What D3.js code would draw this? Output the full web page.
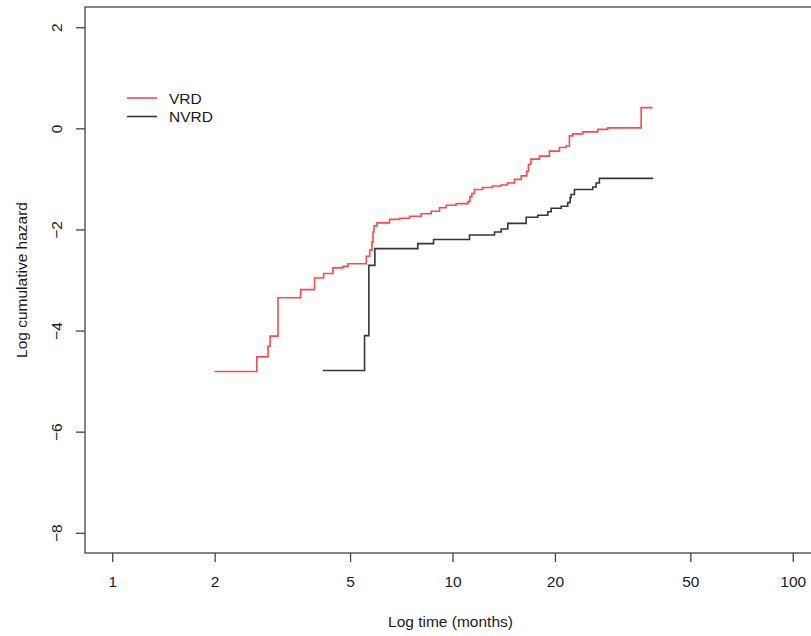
<!DOCTYPE html>
<html>
<head>
<meta charset="utf-8">
<script src="https://cdn.jsdelivr.net/npm/d3@7"></script>
<style>
  html, body { margin: 0; padding: 0; background: #fff; }
  svg { display: block; font-family: "Liberation Sans", Arial, sans-serif; }
</style>
</head>
<body>
<svg id="chart" width="811" height="636"></svg>
<script>
// ---- data ----
const seriesNames = ["VRD", "NVRD"];
const seriesColors = ["#ff4848", "#363636"];

const vrdTime = [2.00, 2.66, 2.87, 2.91, 3.07, 3.58, 3.93, 4.18, 4.45, 4.76, 4.93, 5.58, 5.71, 5.80, 5.84, 5.88, 6.00, 6.53, 7.00, 7.48, 8.09, 8.66, 9.16, 9.58, 10.25, 11.10, 11.25, 11.40, 11.60, 12.25, 13.10, 13.90, 14.51, 15.21, 15.92, 16.53, 16.72, 17.00, 18.01, 19.27, 20.62, 21.57, 22.06, 22.56, 24.14, 26.71, 28.58, 35.84, 38.7];
const vrdHazard = [-4.81, -4.52, -4.31, -4.11, -3.35, -3.19, -2.96, -2.87, -2.76, -2.73, -2.68, -2.53, -2.41, -2.25, -2.05, -1.93, -1.87, -1.80, -1.78, -1.74, -1.69, -1.64, -1.57, -1.52, -1.49, -1.45, -1.35, -1.29, -1.21, -1.17, -1.14, -1.12, -1.08, -1.01, -0.94, -0.85, -0.71, -0.61, -0.55, -0.45, -0.38, -0.35, -0.15, -0.11, -0.07, -0.02, 0.01, 0.41, 0.41];

const nvrdTime = [4.16, 5.515, 5.678, 5.914, 7.908, 8.796, 11.22, 13.29, 13.90, 14.54, 16.46, 17.81, 19.05, 19.50, 20.86, 21.81, 22.17, 22.30, 22.82, 25.83, 26.43, 27.02, 38.9];
const nvrdHazard = [-4.79, -4.10, -2.71, -2.38, -2.28, -2.20, -2.11, -2.05, -1.99, -1.88, -1.76, -1.72, -1.65, -1.58, -1.54, -1.47, -1.37, -1.31, -1.21, -1.16, -1.08, -0.99, -0.99];

const xTicks = [1, 2, 5, 10, 20, 50, 100];
const yTicks = [-8, -6, -4, -2, 0, 2];
const xTitle = "Log time (months)";
const yTitle = "Log cumulative hazard";

// ---- layout ----
const svg = d3.select("#chart");
const mLeft = 85, mRight = 820, mTop = 7, mBottom = 553;

const x = d3.scaleLog().domain([Math.pow(10, -0.08), Math.pow(10, 2.08)]).range([mLeft, mRight]);
const y = d3.scaleLinear().domain([-8.4, 2.4]).range([mBottom, mTop]);

const axisColor = "#444";
const fontSize = "15.5px";

// box
svg.append("rect")
  .attr("x", mLeft).attr("y", mTop)
  .attr("width", mRight - mLeft).attr("height", mBottom - mTop)
  .attr("fill", "none").attr("stroke", axisColor).attr("stroke-width", 1.3);

// x axis
const gx = svg.append("g")
  .attr("transform", `translate(0,${mBottom})`)
  .call(d3.axisBottom(x).tickValues(xTicks).tickFormat(d3.format("d")).tickSize(9).tickPadding(14));
gx.select(".domain").remove();
gx.selectAll(".tick line").attr("stroke", axisColor).attr("stroke-width", 1.3);
gx.selectAll(".tick text").attr("fill", "#1a1a1a").style("font-size", fontSize)
  .style("font-family", "'Liberation Sans', Arial, sans-serif");

// y axis
const gy = svg.append("g")
  .attr("transform", `translate(${mLeft},0)`)
  .call(d3.axisLeft(y).tickValues(yTicks).tickFormat(d3.format("d")).tickSize(9).tickPadding(0));
gy.select(".domain").remove();
gy.selectAll(".tick line").attr("stroke", axisColor).attr("stroke-width", 1.3);
gy.selectAll(".tick text")
  .attr("fill", "#1a1a1a").style("font-size", fontSize)
  .style("font-family", "'Liberation Sans', Arial, sans-serif")
  .attr("x", null).attr("dy", null)
  .attr("text-anchor", "middle")
  .attr("dominant-baseline", "central")
  .attr("transform", "translate(-29,0) rotate(-90)");

// titles
svg.append("text")
  .attr("x", (x(1) + x(100)) / 2 - 2).attr("y", 627)
  .attr("text-anchor", "middle")
  .style("font-size", fontSize).attr("fill", "#1a1a1a")
  .text(xTitle);

svg.append("text")
  .attr("transform", `translate(21,${(y(-8) + y(2)) / 2}) rotate(-90)`)
  .attr("text-anchor", "middle")
  .attr("dominant-baseline", "central")
  .style("font-size", fontSize).attr("fill", "#1a1a1a")
  .text(yTitle);

// step curves
const line = d3.line()
  .x(d => x(d[0]))
  .y(d => y(d[1]))
  .curve(d3.curveStepAfter);

const series = [
  d3.zip(vrdTime, vrdHazard),
  d3.zip(nvrdTime, nvrdHazard)
];

svg.selectAll("path.curve")
  .data(series)
  .join("path")
  .attr("class", "curve")
  .attr("d", line)
  .attr("fill", "none")
  .attr("stroke", (d, i) => seriesColors[i])
  .attr("stroke-width", 1.6);

// legend
const legend = svg.append("g");
seriesNames.forEach((name, i) => {
  const ly = 98 + i * 18.5;
  legend.append("line")
    .attr("x1", 127).attr("x2", 157)
    .attr("y1", ly).attr("y2", ly)
    .attr("stroke", seriesColors[i]).attr("stroke-width", 1.6);
  legend.append("text")
    .attr("x", 169).attr("y", ly)
    .attr("dominant-baseline", "central")
    .style("font-size", fontSize).attr("fill", "#1a1a1a")
    .text(name);
});
</script>
</body>
</html>
